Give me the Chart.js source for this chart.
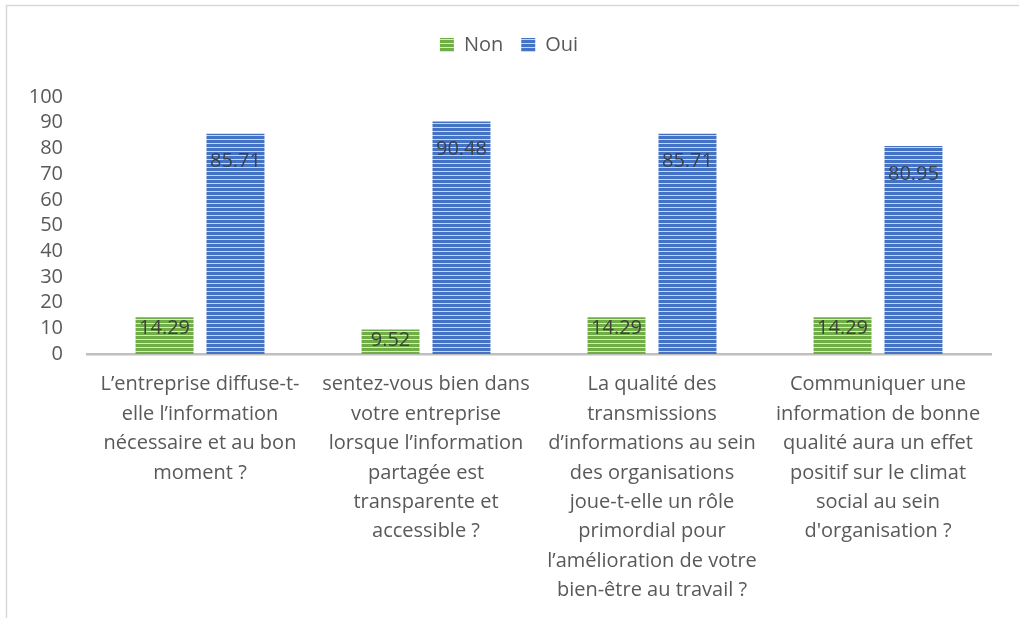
<!DOCTYPE html>
<html>
<head>
<meta charset="utf-8">
<script src="https://cdn.jsdelivr.net/npm/chart.js@4"></script>
<style>
  body { margin: 0; background: #fff; }
  #wrap { width: 1019px; height: 618px; }
</style>
</head>
<body>
<div id="wrap"><canvas id="barChart"></canvas></div>
<script>
// categories (questions) and the two answer series
const questions = [
    ['L’entreprise diffuse-t-', 'elle l’information', 'nécessaire et au bon', 'moment ?'],
    ['sentez-vous bien dans', 'votre entreprise', 'lorsque l’information', 'partagée est', 'transparente et', 'accessible ?'],
    ['La qualité des', 'transmissions', 'd’informations au sein', 'des organisations', 'joue-t-elle un rôle', 'primordial pour', 'l’amélioration de votre', 'bien-être au travail ?'],
    ['Communiquer une', 'information de bonne', 'qualité aura un effet', 'positif sur le climat', 'social au sein', "d'organisation ?"]
];
const seriesNames = ['Non', 'Oui'];
const nonValues = [14.29, 9.52, 14.29, 14.29];
const ouiValues = [85.71, 90.48, 85.71, 80.95];
const yTicks = [0, 10, 20, 30, 40, 50, 60, 70, 80, 90, 100];

const fontFamily = "'Open Sans', 'Liberation Sans', sans-serif";
const textColor = '#595959';

// gestreept patroon zoals in Excel
function stripes(base, light) {
    const c = document.createElement('canvas');
    c.width = 4;
    c.height = 4;
    const g = c.getContext('2d');
    g.fillStyle = base;
    g.fillRect(0, 0, 4, 4);
    g.fillStyle = light;
    g.fillRect(0, 3, 4, 1);
    return g.createPattern(c, 'repeat');
}

const greenFill = stripes('#70AD47', '#d6e9c9');
const blueFill = stripes('#4472C4', '#c9d6f0');

// kader linksboven
const framePlugin = {
    id: 'frame',
    beforeDraw(chart) {
        const c = chart.ctx;
        c.save();
        c.strokeStyle = '#D9D9D9';
        c.lineWidth = 1.5;
        c.beginPath();
        c.moveTo(6.5, 618);
        c.lineTo(6.5, 5.5);
        c.lineTo(1019, 5.5);
        c.stroke();
        c.restore();
    }
};

// waarden in de staven
const valueLabels = {
    id: 'valueLabels',
    afterDatasetsDraw(chart) {
        const c = chart.ctx;
        c.save();
        c.font = '20px ' + fontFamily;
        c.fillStyle = '#404040';
        c.textAlign = 'center';
        c.textBaseline = 'middle';
        chart.data.datasets.forEach((ds, i) => {
            chart.getDatasetMeta(i).data.forEach((bar, j) => {
                const h = bar.base - bar.y;
                const off = h > 60 ? 28 : 11;
                c.fillText(ds.data[j].toFixed(2), bar.x, bar.y + off);
            });
        });
        c.restore();
    }
};

const ctx = document.getElementById('barChart').getContext('2d');

new Chart(ctx, {
    type: 'bar',
    data: {
        labels: questions,
        datasets: [{
            label: seriesNames[0],
            data: nonValues,
            backgroundColor: greenFill,
            borderWidth: 0,
            categoryPercentage: 0.628,
            barPercentage: 0.817
        }, {
            label: seriesNames[1],
            data: ouiValues,
            backgroundColor: blueFill,
            borderWidth: 0,
            categoryPercentage: 0.628,
            barPercentage: 0.817
        }]
    },
    options: {
        responsive: true,
        maintainAspectRatio: false,
        animation: false,
        layout: {
            padding: { top: 17, right: 28, left: 27, bottom: 0 }
        },
        plugins: {
            legend: {
                position: 'top',
                labels: {
                    boxWidth: 14,
                    boxHeight: 14,
                    padding: 18,
                    color: textColor,
                    font: { family: fontFamily, size: 20 }
                }
            },
            // lege ruimte tussen legenda en grafiek
            title: {
                display: true,
                text: ' ',
                weight: 500,
                font: { size: 1, lineHeight: 1 },
                padding: { top: 31, bottom: 0 }
            },
            tooltip: { enabled: false }
        },
        scales: {
            x: {
                grid: { display: false, drawTicks: false },
                border: { color: '#BFBFBF', width: 2.5 },
                ticks: {
                    color: textColor,
                    padding: 16,
                    autoSkip: false,
                    maxRotation: 0,
                    font: { family: fontFamily, size: 20, lineHeight: '29.4px' }
                },
                afterFit(scale) { scale.height = 264; }
            },
            y: {
                min: 0,
                max: 100,
                grid: { display: false, drawTicks: false },
                border: { display: false },
                ticks: {
                    color: textColor,
                    padding: 24,
                    stepSize: 10,
                    autoSkip: false,
                    font: { family: fontFamily, size: 20 }
                },
                afterBuildTicks(scale) {
                    scale.ticks = yTicks.map(v => ({ value: v }));
                },
                afterFit(scale) {
                    scale.width = 60;
                }
            }
        }
    },
    plugins: [framePlugin, valueLabels]
});
</script>
</body>
</html>
